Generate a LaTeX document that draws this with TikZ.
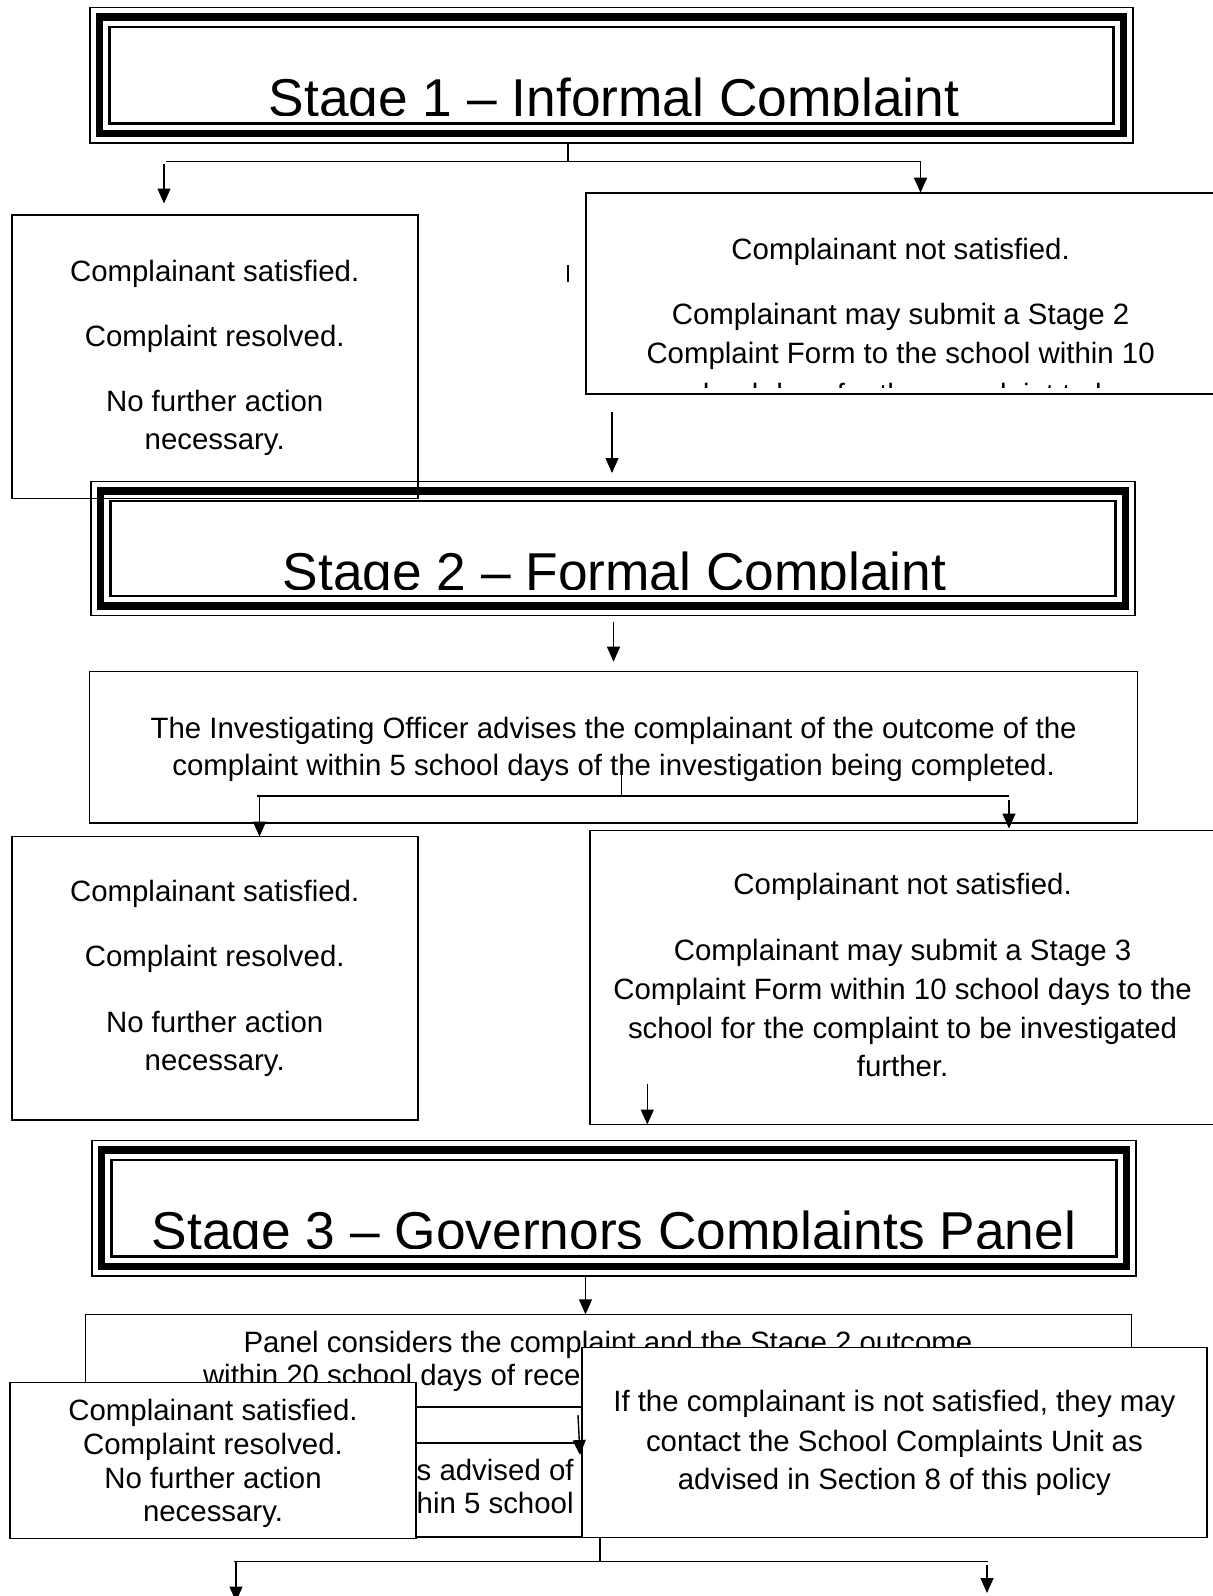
\documentclass[tikz,border=0pt]{standalone}
\usepackage{fontspec}
\setmainfont{Liberation Sans}
\usetikzlibrary{arrows.meta,fit}

\tikzset{
  plainbox/.style={draw, line width=1.6pt, fill=white, inner sep=0pt, outer sep=0pt},
  openbox/.style={draw, line width=1.6pt, inner sep=0pt, outer sep=0pt},
  txt/.style={anchor=base, inner sep=0pt, outer sep=0pt, font=\fontsize{29.4}{35}\selectfont},
  txtw/.style={txt, anchor=base west},
  ttl/.style={anchor=base, inner sep=0pt, outer sep=0pt, font=\fontsize{53.3}{60}\selectfont},
  conn/.style={line width=1.4pt},
  arr/.style={line width=1.4pt, -{Triangle[length=15pt,width=13pt]}},
}

% name, x1, y1, x2, y2
\newcommand\stageframe[5]{%
  \node[inner sep=0pt, outer sep=0pt, fill=white, fit={(#2,#3) (#4,#5)}] (#1) {};
  \draw[line width=1.5pt] (#2,#3) rectangle (#4,#5);
  \draw[line width=7.5pt] (#2+9.5,#3+9.5) rectangle (#4-9.5,#5-9.5);
  \draw[line width=2.5pt] (#2+19.3,#3+19.3) rectangle (#4-19.3,#5-19.3);
}
% name, x1, y1, x2, clip y, centre x, text
\newcommand\stagetitle[7]{%
  \begin{scope}
    \clip (#2,#3) rectangle (#4,#5);
    \node[ttl] (#1) at (#6,#5+1) {#7};
  \end{scope}
}

\begin{document}
\begin{tikzpicture}[x=1pt,y=-1pt]
\useasboundingbox (0,0) rectangle (1213,1596);
\fill[white] (0,0) rectangle (1213,1596);

% ---------------- Stage 1 ----------------
\stageframe{s1}{90}{7.5}{1133}{143}
\stagetitle{t1}{110}{28}{1113}{115.3}{614}{Stage 1 -- Informal Complaint}

\coordinate (j1) at (568,161.5);
\coordinate (j1l) at (166,161.5);
\coordinate (j1r) at (920.5,161.5);
\coordinate (a1s) at (164,163.5);
\coordinate (a1e) at (164,203.5);
\draw[conn] (s1.south -| j1) -- (j1);
\draw[conn] (j1l) -- (j1r);
\draw[arr] (a1s) -- (a1e);

% right box 1
\node[plainbox, fit={(586,192.7) (1216,394)}] (r1) {};
\draw[arr] (j1r) -- (j1r |- r1.north);
\node[txt] (r1a) at (900.6,259.7) {Complainant not satisfied.};
\node[txt] (r1b) at (900.6,324.8) {Complainant may submit a Stage 2};
\node[txt] (r1c) at (900.6,363.4) {Complaint Form to the school within 10};
\begin{scope}
  \clip (590,372) rectangle (1213,387.2);
  \node[txt] (r1d) at (900.6,404.5) {school days for the complaint to be};
\end{scope}

% stray mark
\coordinate (m1a) at (568,265);
\coordinate (m1b) at (568,281.5);
\draw[conn] (m1a) -- (m1b);

% arrow to stage 2
\coordinate (a2s) at (612,412);
\coordinate (a2e) at (612,473);
\draw[arr] (a2s) -- (a2e);

% ---------------- Stage 2 ----------------
\stageframe{s2}{91}{481.5}{1135}{615.3}
\stagetitle{t2}{111}{502}{1115}{589}{614.5}{Stage 2 -- Formal Complaint}

% left box 1 (drawn over stage 2 frame, no fill)
\node[openbox, fit={(12.2,214.7) (418,498.3)}] (l1) {};
\node[txt] (l1a) at (214.7,281) {Complainant satisfied.};
\node[txt] (l1b) at (214.7,346) {Complaint resolved.};
\node[txt] (l1c) at (214.7,411) {No further action};
\node[txt] (l1d) at (214.7,449.7) {necessary.};

\coordinate (a3e) at (613.5,661.7);
\draw[arr] (s2.south -| a3e) ++(0,6.5) -- (a3e);

% investigating officer box
\node[plainbox, fit={(89.5,671.6) (1137.5,823)}] (io) {};
\node[txt] (ioa) at (613.6,738) {The Investigating Officer advises the complainant of the outcome of the};
\node[txt] (iob) at (613.6,775.6) {complaint within 5 school days of the investigation being completed.};

\coordinate (j2s) at (621.7,755);
\coordinate (j2) at (621.7,796);
\coordinate (j2l) at (257,796);
\coordinate (j2r) at (1009,796);
\coordinate (a4s) at (259.5,796);
\coordinate (a5s) at (1009,800);
\coordinate (a5e) at (1009,828.5);
\draw[conn] (j2s) -- (j2);
\draw[conn] (j2l) -- (j2r);

% left box 2
\node[plainbox, fit={(12.2,836.5) (418,1120)}] (l2) {};
\node[txt] (l2a) at (214.7,901.8) {Complainant satisfied.};
\node[txt] (l2b) at (214.7,966.9) {Complaint resolved.};
\node[txt] (l2c) at (214.7,1032) {No further action};
\node[txt] (l2d) at (214.7,1070.7) {necessary.};
\draw[arr] (a4s) -- (a4s |- l2.north);

% right box 2
\node[plainbox, fit={(590.2,830.5) (1216,1124.5)}] (r2) {};
\draw[arr] (a5s) -- (a5e);
\node[txt] (r2a) at (902.6,894.7) {Complainant not satisfied.};
\node[txt] (r2b) at (902.6,960.8) {Complainant may submit a Stage 3};
\node[txt] (r2c) at (902.6,999.5) {Complaint Form within 10 school days to the};
\node[txt] (r2d) at (902.6,1038.2) {school for the complaint to be investigated};
\node[txt] (r2e) at (902.6,1076.8) {further.};
\coordinate (a6s) at (647.3,1083.5);
\draw[arr] (a6s) -- (a6s |- r2.south);

% ---------------- Stage 3 ----------------
\stageframe{s3}{92}{1140.5}{1136}{1276}
\stagetitle{t3}{112}{1161}{1116}{1248.5}{614}{Stage 3 -- Governors Complaints Panel}

% panel box
\node[plainbox, fit={(85.5,1314.3) (1131.5,1406.7)}] (pb) {};
\coordinate (a7) at (585.5,1276);
\draw[arr] (a7) -- (a7 |- pb.north);
\node[txt] (pba) at (608,1352.7) {Panel considers the complaint and the Stage 2 outcome};
\node[txtw] (pbb) at (203,1385) {within 20 school days of rece};

% outcome box
\node[plainbox, fit={(86,1442.7) (1131,1537)}] (ob) {};
\node[txtw] (oba) at (416.7,1480) {s advised of};
\node[txtw] (obb) at (416.7,1513.3) {hin 5 school};

% left box 3
\node[plainbox, fit={(10.2,1382.5) (415.7,1538.3)}] (l3) {};
\node[txt] (l3a) at (213,1420.8) {Complainant satisfied.};
\node[txt] (l3b) at (213,1454.4) {Complaint resolved.};
\node[txt] (l3c) at (213,1488) {No further action};
\node[txt] (l3d) at (213,1521.6) {necessary.};

% right box 3
\node[plainbox, fit={(581.7,1347.3) (1206.8,1537.3)}] (r3) {};
\node[txt] (r3a) at (894.4,1411.6) {If the complainant is not satisfied, they may};
\node[txt] (r3b) at (894.4,1451) {contact the School Complaints Unit as};
\node[txt] (r3c) at (894.4,1489.5) {advised in Section 8 of this policy};

% arrow panel -> outcome (drawn over right box 3)
\coordinate (a8s) at (578,1415);
\coordinate (a8e) at (580,1455);
\draw[arr] (a8s) -- (a8e);

% bottom connectors
\coordinate (j3) at (600,1561.7);
\coordinate (j3l) at (234,1561.7);
\coordinate (j3r) at (988,1561.7);
\coordinate (a9s) at (236,1561.7);
\coordinate (a9e) at (236,1601.5);
\coordinate (a10s) at (987,1565);
\coordinate (a10e) at (987,1593);
\draw[conn] (r3.south -| j3) -- (j3);
\draw[conn] (j3l) -- (j3r);
\draw[arr] (a9s) -- (a9e);
\draw[arr] (a10s) -- (a10e);
\end{tikzpicture}
\end{document}
